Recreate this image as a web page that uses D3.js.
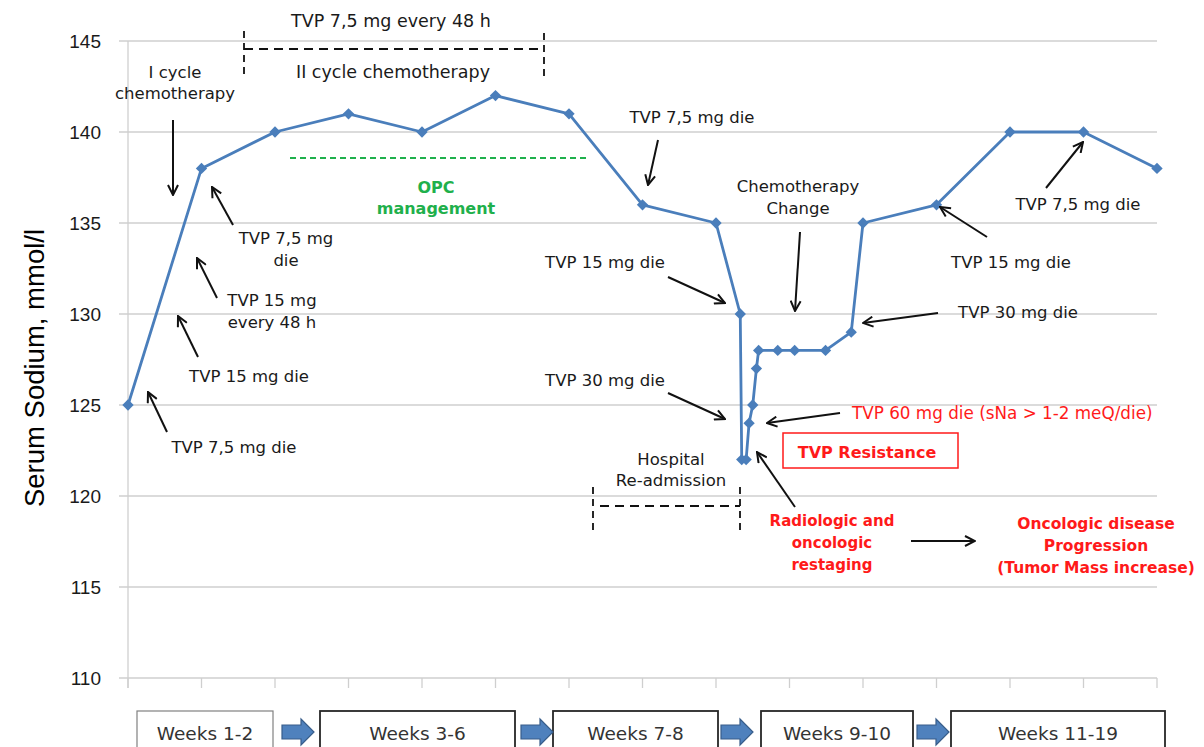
<!DOCTYPE html>
<html><head><meta charset="utf-8">
<script src="https://cdn.jsdelivr.net/npm/d3@7"></script>
<style>body{margin:0;background:#fff} svg{display:block}</style>
</head><body>
<svg id="c" width="1204" height="747"></svg>
<script>
// ---- data ----
const weekIndex = [0,1,2,3,4,5,6,7,8,8.33,8.35,8.41,8.45,8.50,8.55,8.58,8.84,9.07,9.49,9.84,10,11,12,13,14];
const sodium    = [125,138,140,141,140,142,141,136,135,130,122,122,124,125,127,128,128,128,128,129,135,136,140,140,138];
const yTicks = [110,115,120,125,130,135,140,145];
const xTicks = [0,1,2,3,4,5,6,7,8,9,10,11,12,13,14];
const phaseLabels = ["Weeks 1-2","Weeks 3-6","Weeks 7-8","Weeks 9-10","Weeks 11-19"];
const yTitle = "Serum Sodium, mmol/l";

// ---- layout ----
const svg = d3.select("#c");
const x = d3.scaleLinear().domain([0,14]).range([128,1157]);
const y = d3.scaleLinear().domain([110,145]).range([678,41]);
const AF = "'Comic Sans MS','DejaVu Sans',sans-serif";
const grid = "#cfcfcf";

const defs = svg.append("defs");
defs.append("marker").attr("id","ah").attr("viewBox","0 0 12 12")
  .attr("refX",11).attr("refY",6).attr("markerWidth",12).attr("markerHeight",12)
  .attr("markerUnits","userSpaceOnUse").attr("orient","auto")
  .append("path").attr("d","M1,1 L11,6 L1,11").attr("fill","none")
  .attr("stroke","#111").attr("stroke-width",2);

// gridlines
svg.append("g").selectAll("line").data(yTicks).join("line")
  .attr("x1",119).attr("x2",x(14)).attr("y1",d=>y(d)).attr("y2",d=>y(d))
  .attr("stroke",grid).attr("stroke-width",1.3);
// y axis line
svg.append("line").attr("x1",x(0)).attr("x2",x(0)).attr("y1",y(145)).attr("y2",y(110)+10)
  .attr("stroke",grid).attr("stroke-width",1.3);
// x ticks
svg.append("g").selectAll("line").data(xTicks).join("line")
  .attr("x1",d=>x(d)).attr("x2",d=>x(d)).attr("y1",y(110)).attr("y2",y(110)+10)
  .attr("stroke",grid).attr("stroke-width",1.3);
// y tick labels
svg.append("g").selectAll("text").data(yTicks).join("text")
  .attr("x",101).attr("y",d=>y(d)+7).attr("text-anchor","end")
  .attr("font-family","'Liberation Sans',Arial,sans-serif").attr("font-size",19).attr("fill","#1a1a1a")
  .text(d=>d);
// y title
svg.append("text").attr("transform","translate(44,368) rotate(-90)").attr("text-anchor","middle")
  .attr("font-family","'Liberation Sans',Arial,sans-serif").attr("font-size",27.5).attr("fill","#000")
  .text(yTitle);

// line + markers
const pts = weekIndex.map((w,i)=>[w,sodium[i]]);
svg.append("path").datum(pts)
  .attr("d",d3.line().x(d=>x(d[0])).y(d=>y(d[1])))
  .attr("fill","none").attr("stroke","#4a7ebb").attr("stroke-width",2.8).attr("stroke-linejoin","round");
svg.append("g").selectAll("path").data(pts).join("path")
  .attr("transform",d=>`translate(${x(d[0])},${y(d[1])}) rotate(45)`)
  .attr("d",d3.symbol(d3.symbolSquare,64)).attr("fill","#4a7ebb");

// ---- annotations ----
function txt(lines, cx, by, opts={}){
  const t = svg.append("text").attr("font-family",AF).attr("font-size",opts.size||16.5)
    .attr("fill",opts.color||"#1a1a1a").attr("text-anchor",opts.anchor||"middle")
    .attr("font-weight",opts.weight||"normal");
  if(opts.italic) t.attr("font-style","italic");
  lines.forEach((l,i)=>t.append("tspan").attr("x",cx).attr("y",by+i*(opts.lh||22)).text(l));
}
function arrow(x1,y1,x2,y2){
  svg.append("line").attr("x1",x1).attr("y1",y1).attr("x2",x2).attr("y2",y2)
    .attr("stroke","#111").attr("stroke-width",2).attr("marker-end","url(#ah)");
}
function dash(pts, color, w, da){
  svg.append("path").attr("d",d3.line()(pts)).attr("fill","none")
    .attr("stroke",color||"#111").attr("stroke-width",w||1.8).attr("stroke-dasharray",da||"9,6");
}

// top bracket
txt(["TVP 7,5 mg every 48 h"],391,27,{size:17.5});
dash([[244,49],[544,49]]);
dash([[244,31],[244,75]],null,1.8,"7,5");
dash([[544,33],[544,77]],null,1.8,"7,5");
txt(["II cycle chemotherapy"],393,78,{size:17.5});
txt(["I cycle","chemotherapy"],175,78,{lh:21});
arrow(173,120,173,195);
// OPC
dash([[290,158],[590,158]],"#1fb04c",2,"6,4");
txt(["OPC","management"],436,193,{color:"#1fb04c",weight:"bold",size:16,lh:21});
// left side
txt(["TVP 7,5 mg","die"],286,244,{lh:22});
arrow(233,225,212,187);
txt(["TVP 15 mg","every 48 h"],272,306,{lh:22});
arrow(217,298,197,258);
txt(["TVP 15 mg die"],249,382);
arrow(198,357,178,316);
txt(["TVP 7,5 mg die"],234,453);
arrow(167,432,148,392);
// middle
txt(["TVP 7,5 mg die"],692,123);
arrow(658,140,648,185);
txt(["Chemotherapy","Change"],798,192,{lh:22});
arrow(800,232,795,311);
txt(["TVP 15 mg die"],605,268);
arrow(668,277,725,303);
txt(["TVP 30 mg die"],605,386);
arrow(668,393,725,419);
txt(["Hospital","Re-admission"],671,465,{lh:21});
dash([[600,506],[740,506]]);
dash([[593,487],[593,532]],null,1.8,"7,5");
dash([[740,487],[740,530]],null,1.8,"7,5");
// red
txt(["TVP 60 mg die (sNa > 1-2 meQ/die)"],852,419,{anchor:"start",color:"#ff1a1a",size:16.8});
arrow(840,413,767,423);
svg.append("rect").attr("x",783).attr("y",433).attr("width",175).attr("height",35)
  .attr("fill","none").attr("stroke","#ff1a1a").attr("stroke-width",1.5);
txt(["TVP Resistance"],867,458,{color:"#ff1a1a",weight:"bold",size:16});
txt(["Radiologic and","oncologic","restaging"],832,526,{color:"#ff1a1a",weight:"bold",size:15,lh:22});
arrow(795,507,757,452);
arrow(911,541,975,541);
txt(["Oncologic disease","Progression","(Tumor Mass increase)"],1096,529,{color:"#ff1a1a",weight:"bold",size:15.5,lh:22});
// right side
txt(["TVP 30 mg die"],1018,318);
arrow(938,313,863,323);
txt(["TVP 15 mg die"],1011,268);
arrow(987,237,940,207);
txt(["TVP 7,5 mg die"],1078,210);
arrow(1046,188,1083,142);

// ---- phase boxes ----
const boxes = [[137,273],[320,515],[553,718],[761,913],[951,1165]];
const g = svg.append("g");
g.selectAll("rect").data(phaseLabels).join("rect")
  .attr("x",(d,i)=>boxes[i][0]).attr("y",711).attr("width",(d,i)=>boxes[i][1]-boxes[i][0]).attr("height",60)
  .attr("fill","#fff").attr("stroke",(d,i)=>i===0?"#808080":"#262626").attr("stroke-width",(d,i)=>i===0?1.2:1.8);
g.selectAll("text").data(phaseLabels).join("text")
  .attr("x",(d,i)=>(boxes[i][0]+boxes[i][1])/2).attr("y",740).attr("text-anchor","middle")
  .attr("font-family",AF).attr("font-size",18.5).attr("fill","#333").text(d=>d);
const arrowsX = [282,521,721,917];
svg.append("g").selectAll("path").data(arrowsX).join("path")
  .attr("d",x0=>`M${x0},725 L${x0+19},725 L${x0+19},719 L${x0+32},732 L${x0+19},745 L${x0+19},739 L${x0},739 Z`)
  .attr("fill","#4f81bd").attr("stroke","#385d8a").attr("stroke-width",1.2);
</script>
</body></html>
